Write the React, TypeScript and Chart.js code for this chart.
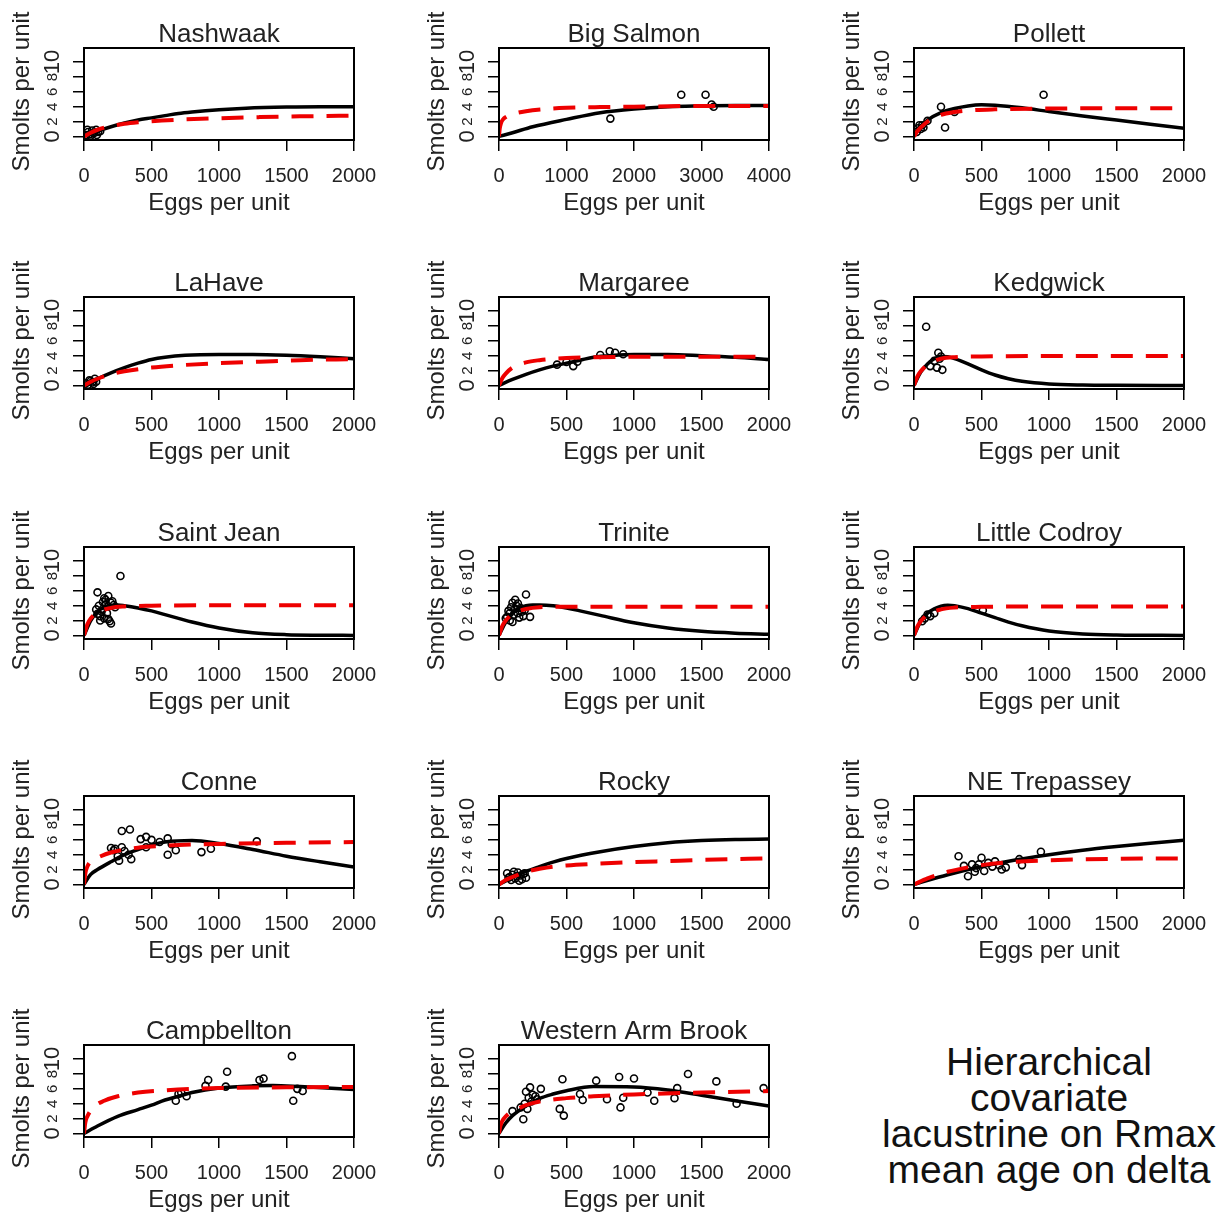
import { useEffect, useRef } from "react";
import { Chart, registerables } from "chart.js";

Chart.register(...registerables);

const FONT = "'Liberation Sans', Arial, Helvetica, sans-serif";
const TEXT = "#222222";
Chart.defaults.font.family = FONT;

// ---------- shared axis data ----------
const yTicks = [0, 2, 4, 6, 8, 10];
const yTicksLarge = [0, 10];
const xTicks2000 = [0, 500, 1000, 1500, 2000];
const xTicks4000 = [0, 1000, 2000, 3000, 4000];
const yMin = -0.48;
const yMax = 11.9;

// ---------- Nashwaak ----------
const nashwaakBlackX = [0, 100, 200, 300, 400, 500, 600, 700, 800, 1000, 1200, 1500, 1750, 2000];
const nashwaakBlackY = [0, 0.7, 1.3, 1.8, 2.2, 2.5, 2.8, 3.1, 3.3, 3.6, 3.8, 3.95, 4.0, 4.0];
const nashwaakRedX = [0, 50, 100, 200, 300, 400, 500, 700, 1000, 1300, 1600, 2000];
const nashwaakRedY = [0, 0.5, 0.9, 1.4, 1.7, 1.9, 2.05, 2.25, 2.45, 2.6, 2.7, 2.8];
const nashwaakPtsX = [15, 30, 45, 60, 75, 90, 105, 25, 50, 70, 95, 120];
const nashwaakPtsY = [0.2, 0.6, 0.3, 0.8, 0.5, 0.9, 0.6, 0.9, 0.1, 0.4, 0.2, 0.7];

// ---------- Big Salmon ----------
const bigSalmonBlackX = [0, 200, 500, 1000, 1500, 2000, 2500, 3000, 3500, 4000];
const bigSalmonBlackY = [0, 0.5, 1.3, 2.3, 3.2, 3.7, 4.0, 4.1, 4.15, 4.15];
const bigSalmonRedX = [0, 10, 30, 60, 100, 200, 400, 700, 1000, 1500, 2000, 3000, 4000];
const bigSalmonRedY = [0, 1.0, 1.8, 2.3, 2.6, 3.0, 3.4, 3.7, 3.85, 3.95, 4.0, 4.1, 4.1];
const bigSalmonPtsX = [1650, 2700, 3060, 3150, 3180];
const bigSalmonPtsY = [2.4, 5.6, 5.6, 4.3, 4.0];

// ---------- Pollett ----------
const pollettBlackX = [0, 25, 50, 100, 200, 300, 400, 500, 600, 800, 1000, 1250, 1500, 1750, 2000];
const pollettBlackY = [0, 0.8, 1.4, 2.2, 3.2, 3.75, 4.1, 4.25, 4.2, 3.85, 3.35, 2.75, 2.2, 1.65, 1.1];
const pollettRedX = [0, 25, 50, 100, 200, 300, 400, 600, 1000, 1500, 2000];
const pollettRedY = [0, 0.7, 1.2, 2.0, 2.9, 3.3, 3.5, 3.65, 3.75, 3.8, 3.8];
const pollettPtsX = [20, 30, 40, 50, 60, 70, 100, 200, 230, 300, 960];
const pollettPtsY = [0.6, 1.1, 1.5, 1.0, 1.5, 1.2, 2.1, 4.0, 1.2, 3.3, 5.6];

// ---------- LaHave ----------
const lahaveBlackX = [0, 100, 200, 300, 400, 500, 600, 750, 1000, 1250, 1500, 1750, 2000];
const lahaveBlackY = [0, 0.9, 1.7, 2.4, 3.0, 3.5, 3.8, 4.05, 4.15, 4.15, 4.05, 3.85, 3.6];
const lahaveRedX = [0, 50, 100, 200, 300, 500, 700, 1000, 1300, 1600, 2000];
const lahaveRedY = [0, 0.5, 0.9, 1.5, 1.9, 2.4, 2.7, 3.0, 3.2, 3.4, 3.55];
const lahavePtsX = [15, 30, 40, 50, 60, 70, 80, 90];
const lahavePtsY = [0.3, 0.1, 0.7, 0.6, 0.4, 0.2, 0.9, 0.5];

// ---------- Margaree ----------
const margareeBlackX = [0, 100, 200, 300, 400, 500, 600, 700, 850, 1000, 1250, 1500, 1750, 2000];
const margareeBlackY = [0, 0.8, 1.5, 2.1, 2.6, 3.0, 3.4, 3.8, 4.05, 4.15, 4.15, 4.0, 3.8, 3.5];
const margareeRedX = [0, 25, 50, 100, 200, 300, 500, 700, 1000, 1500, 2000];
const margareeRedY = [0, 1.0, 1.6, 2.4, 3.1, 3.4, 3.7, 3.8, 3.85, 3.85, 3.85];
const margareePtsX = [430, 500, 550, 580, 750, 820, 860, 920];
const margareePtsY = [2.8, 3.15, 2.6, 3.2, 4.1, 4.6, 4.4, 4.2];

// ---------- Kedgwick ----------
const kedgwickBlackX = [0, 50, 100, 150, 200, 250, 300, 400, 500, 600, 700, 800, 1000, 1250, 1500, 2000];
const kedgwickBlackY = [0, 1.8, 2.9, 3.6, 3.9, 3.85, 3.6, 2.9, 2.1, 1.4, 0.9, 0.55, 0.2, 0.06, 0.02, 0];
const kedgwickRedX = [0, 25, 50, 100, 150, 200, 300, 500, 1000, 2000];
const kedgwickRedY = [0, 1.2, 1.9, 2.8, 3.3, 3.6, 3.8, 3.9, 3.95, 3.95];
const kedgwickPtsX = [90, 120, 150, 170, 180, 190, 200, 210];
const kedgwickPtsY = [7.9, 2.6, 3.3, 2.4, 4.4, 3.6, 3.9, 2.1];

// ---------- Saint Jean ----------
const saintJeanBlackX = [0, 50, 100, 150, 200, 250, 300, 400, 500, 600, 700, 800, 1000, 1250, 1500, 1750, 2000];
const saintJeanBlackY = [0, 2.0, 3.2, 3.8, 4.05, 4.1, 4.0, 3.7, 3.3, 2.8, 2.3, 1.8, 1.0, 0.35, 0.1, 0.03, 0];
const saintJeanRedX = [0, 25, 50, 100, 200, 300, 500, 1000, 2000];
const saintJeanRedY = [0, 1.5, 2.3, 3.1, 3.7, 3.9, 4.0, 4.05, 4.05];
const saintJeanPtsX = [90, 100, 100, 110, 120, 120, 130, 140, 140, 150, 150, 160, 160, 170, 180, 180, 190, 200, 200, 210, 220, 230, 270];
const saintJeanPtsY = [3.5, 5.8, 2.9, 4.0, 2.6, 2.0, 3.2, 4.5, 3.6, 5.0, 2.3, 4.8, 4.2, 3.0, 2.2, 5.3, 1.9, 4.4, 1.6, 4.6, 4.1, 3.8, 8.0];

// ---------- Trinite ----------
const triniteBlackX = [0, 50, 100, 150, 200, 250, 300, 400, 500, 600, 750, 1000, 1250, 1500, 1750, 2000];
const triniteBlackY = [0, 1.8, 3.0, 3.7, 4.0, 4.1, 4.1, 4.0, 3.7, 3.3, 2.7, 1.7, 1.0, 0.55, 0.3, 0.15];
const triniteRedX = [0, 25, 50, 100, 200, 300, 500, 1000, 2000];
const triniteRedY = [0, 1.3, 2.0, 2.9, 3.55, 3.8, 3.85, 3.85, 3.85];
const trinitePtsX = [50, 60, 70, 80, 80, 90, 100, 100, 110, 120, 120, 130, 140, 140, 150, 160, 170, 180, 190, 200, 230];
const trinitePtsY = [2.3, 2.5, 3.3, 2.0, 3.0, 3.8, 4.4, 1.8, 2.8, 3.6, 4.8, 4.0, 3.0, 4.3, 2.4, 3.7, 3.2, 2.6, 3.4, 5.5, 2.5];

// ---------- Little Codroy ----------
const codroyBlackX = [0, 50, 100, 150, 200, 250, 300, 400, 500, 600, 700, 800, 1000, 1250, 1500, 2000];
const codroyBlackY = [0, 1.9, 3.0, 3.6, 3.95, 4.05, 4.0, 3.6, 3.0, 2.4, 1.8, 1.3, 0.6, 0.2, 0.06, 0];
const codroyRedX = [0, 25, 50, 100, 200, 300, 500, 1000, 2000];
const codroyRedY = [0, 1.2, 1.9, 2.8, 3.5, 3.75, 3.85, 3.9, 3.9];
const codroyPtsX = [60, 80, 100, 120, 150, 510];
const codroyPtsY = [1.9, 2.3, 2.8, 2.6, 3.0, 3.4];

// ---------- Conne ----------
const conneBlackX = [0, 50, 100, 200, 300, 400, 500, 600, 800, 1000, 1250, 1500, 1750, 2000];
const conneBlackY = [0, 1.35, 2.0, 3.05, 4.0, 4.7, 5.3, 5.7, 5.9, 5.5, 4.7, 3.8, 3.05, 2.35];
const conneRedX = [0, 10, 25, 50, 100, 200, 300, 400, 500, 700, 1000, 1500, 2000];
const conneRedY = [0, 1.5, 2.4, 3.1, 3.6, 4.3, 4.7, 4.95, 5.1, 5.3, 5.45, 5.6, 5.7];
const connePtsX = [200, 220, 230, 250, 260, 280, 280, 300, 330, 340, 350, 420, 460, 460, 500, 560, 620, 620, 650, 680, 870, 940, 1280];
const connePtsY = [4.9, 4.6, 4.8, 3.8, 3.2, 7.2, 5.0, 4.5, 4.0, 7.4, 3.4, 6.1, 6.4, 5.0, 6.0, 5.7, 6.2, 4.0, 5.4, 4.6, 4.35, 4.8, 5.8];

// ---------- Rocky ----------
const rockyBlackX = [0, 100, 200, 300, 400, 500, 750, 1000, 1250, 1500, 1750, 2000];
const rockyBlackY = [0, 0.9, 1.75, 2.4, 3.0, 3.5, 4.4, 5.1, 5.6, 5.9, 6.05, 6.1];
const rockyRedX = [0, 50, 100, 200, 300, 400, 500, 750, 1000, 1250, 1500, 2000];
const rockyRedY = [0, 0.6, 1.0, 1.7, 2.1, 2.4, 2.55, 2.8, 3.0, 3.15, 3.3, 3.5];
const rockyPtsX = [60, 70, 80, 90, 100, 110, 120, 130, 140, 150, 160, 170, 180, 190, 200];
const rockyPtsY = [1.5, 0.9, 1.0, 0.6, 1.3, 1.7, 0.8, 1.1, 1.6, 0.5, 1.2, 0.7, 1.4, 1.5, 0.9];

// ---------- NE Trepassey ----------
const trepasseyBlackX = [0, 250, 500, 750, 1000, 1250, 1500, 1750, 2000];
const trepasseyBlackY = [0, 1.3, 2.4, 3.3, 4.0, 4.6, 5.1, 5.55, 5.95];
const trepasseyRedX = [0, 100, 250, 400, 500, 750, 1000, 1500, 2000];
const trepasseyRedY = [0, 0.8, 1.7, 2.3, 2.6, 3.05, 3.25, 3.45, 3.5];
const trepasseyPtsX = [330, 370, 400, 430, 450, 460, 480, 500, 520, 550, 580, 600, 630, 650, 680, 780, 800, 940];
const trepasseyPtsY = [3.8, 2.5, 1.1, 2.7, 1.7, 2.2, 2.7, 3.6, 1.8, 2.9, 2.4, 3.1, 2.6, 2.0, 2.3, 3.4, 2.6, 4.4];

// ---------- Campbellton ----------
const campbelltonBlackX = [0, 100, 250, 400, 500, 600, 700, 800, 1000, 1250, 1400, 1600, 1800, 2000];
const campbelltonBlackY = [0, 1.0, 2.3, 3.2, 3.8, 4.5, 5.0, 5.5, 6.1, 6.4, 6.45, 6.3, 6.1, 5.9];
const campbelltonRedX = [0, 10, 25, 75, 150, 250, 400, 600, 800, 1000, 1500, 2000];
const campbelltonRedY = [0, 1.5, 2.3, 3.6, 4.4, 5.0, 5.5, 5.8, 6.0, 6.1, 6.2, 6.25];
const campbelltonPtsX = [680, 700, 720, 760, 900, 920, 1050, 1060, 1300, 1330, 1540, 1550, 1580, 1620];
const campbelltonPtsY = [4.4, 5.3, 5.5, 5.0, 6.4, 7.2, 6.3, 8.3, 7.2, 7.4, 10.4, 4.4, 6.0, 5.7];

// ---------- Western Arm Brook ----------
const wabBlackX = [0, 50, 100, 200, 300, 400, 500, 700, 1000, 1250, 1500, 1750, 2000];
const wabBlackY = [0, 1.4, 2.4, 3.7, 4.7, 5.3, 5.75, 6.3, 6.25, 5.85, 5.15, 4.4, 3.7];
const wabRedX = [0, 10, 25, 50, 100, 150, 200, 300, 500, 700, 1000, 1500, 2000];
const wabRedY = [0, 1.0, 1.7, 2.3, 3.0, 3.4, 3.8, 4.3, 4.75, 5.0, 5.25, 5.5, 5.7];
const wabPtsX = [100, 160, 180, 190, 200, 210, 220, 230, 240, 250, 270, 280, 310, 450, 470, 480, 600, 620, 720, 800, 890, 900, 920, 1000, 1100, 1150, 1300, 1320, 1400, 1610, 1760, 1960];
const wabPtsY = [3.0, 3.5, 1.9, 4.0, 5.6, 3.3, 4.8, 6.2, 4.3, 5.2, 5.0, 4.6, 6.0, 3.3, 7.3, 2.4, 5.3, 4.5, 7.1, 4.6, 7.6, 3.5, 4.8, 7.4, 5.5, 4.4, 4.75, 6.1, 8.0, 7.0, 4.0, 6.1];

const noteLines = ["Hierarchical", "covariate", "lacustrine on Rmax", "mean age on delta"];

const panels = [
  { name: "Nashwaak", xMax: 2000, xTicks: xTicks2000, bx: nashwaakBlackX, by: nashwaakBlackY, rx: nashwaakRedX, ry: nashwaakRedY, px: nashwaakPtsX, py: nashwaakPtsY },
  { name: "Big Salmon", xMax: 4000, xTicks: xTicks4000, bx: bigSalmonBlackX, by: bigSalmonBlackY, rx: bigSalmonRedX, ry: bigSalmonRedY, px: bigSalmonPtsX, py: bigSalmonPtsY },
  { name: "Pollett", xMax: 2000, xTicks: xTicks2000, bx: pollettBlackX, by: pollettBlackY, rx: pollettRedX, ry: pollettRedY, px: pollettPtsX, py: pollettPtsY },
  { name: "LaHave", xMax: 2000, xTicks: xTicks2000, bx: lahaveBlackX, by: lahaveBlackY, rx: lahaveRedX, ry: lahaveRedY, px: lahavePtsX, py: lahavePtsY },
  { name: "Margaree", xMax: 2000, xTicks: xTicks2000, bx: margareeBlackX, by: margareeBlackY, rx: margareeRedX, ry: margareeRedY, px: margareePtsX, py: margareePtsY },
  { name: "Kedgwick", xMax: 2000, xTicks: xTicks2000, bx: kedgwickBlackX, by: kedgwickBlackY, rx: kedgwickRedX, ry: kedgwickRedY, px: kedgwickPtsX, py: kedgwickPtsY },
  { name: "Saint Jean", xMax: 2000, xTicks: xTicks2000, bx: saintJeanBlackX, by: saintJeanBlackY, rx: saintJeanRedX, ry: saintJeanRedY, px: saintJeanPtsX, py: saintJeanPtsY },
  { name: "Trinite", xMax: 2000, xTicks: xTicks2000, bx: triniteBlackX, by: triniteBlackY, rx: triniteRedX, ry: triniteRedY, px: trinitePtsX, py: trinitePtsY },
  { name: "Little Codroy", xMax: 2000, xTicks: xTicks2000, bx: codroyBlackX, by: codroyBlackY, rx: codroyRedX, ry: codroyRedY, px: codroyPtsX, py: codroyPtsY },
  { name: "Conne", xMax: 2000, xTicks: xTicks2000, bx: conneBlackX, by: conneBlackY, rx: conneRedX, ry: conneRedY, px: connePtsX, py: connePtsY },
  { name: "Rocky", xMax: 2000, xTicks: xTicks2000, bx: rockyBlackX, by: rockyBlackY, rx: rockyRedX, ry: rockyRedY, px: rockyPtsX, py: rockyPtsY },
  { name: "NE Trepassey", xMax: 2000, xTicks: xTicks2000, bx: trepasseyBlackX, by: trepasseyBlackY, rx: trepasseyRedX, ry: trepasseyRedY, px: trepasseyPtsX, py: trepasseyPtsY },
  { name: "Campbellton", xMax: 2000, xTicks: xTicks2000, bx: campbelltonBlackX, by: campbelltonBlackY, rx: campbelltonRedX, ry: campbelltonRedY, px: campbelltonPtsX, py: campbelltonPtsY },
  { name: "Western Arm Brook", xMax: 2000, xTicks: xTicks2000, bx: wabBlackX, by: wabBlackY, rx: wabRedX, ry: wabRedY, px: wabPtsX, py: wabPtsY },
];

// layout (page pixel positions of each plot box)
const colLeft = [84, 499, 914];
const rowTop = [48, 297, 547, 796, 1045];
const CANVAS_W = 390;
const CANVAS_H = 218;
const AREA_LEFT = 84;
const AREA_TOP = 48;
const AREA_W = 270;
const X_AXIS_H = 78;

const toXY = (xs: number[], ys: number[]) => xs.map((x, i) => ({ x, y: ys[i] }));

function Panel({ p, left, top }: { p: any; left: number; top: number }) {
  const ref = useRef<HTMLCanvasElement>(null);
  useEffect(() => {
    const canvas = ref.current;
    if (!canvas) return;
    const framePlugin = {
      id: "frame",
      afterDatasetsDraw(chart: any) {
        const { ctx, chartArea: a } = chart;
        ctx.save();
        ctx.strokeStyle = "#000";
        ctx.lineWidth = 2;
        ctx.strokeRect(a.left, a.top, a.right - a.left, a.bottom - a.top);
        ctx.restore();
      },
      afterDraw(chart: any) {
        const { ctx, chartArea: a } = chart;
        ctx.save();
        ctx.translate(22, (a.top + a.bottom) / 2 - 2.5);
        ctx.rotate(-Math.PI / 2);
        ctx.font = `24px ${FONT}`;
        ctx.fillStyle = TEXT;
        ctx.textAlign = "center";
        ctx.textBaseline = "middle";
        ctx.fillText("Smolts per unit", 0, 0);
        ctx.restore();
      },
    };
    const gridOpts = {
      drawOnChartArea: false,
      drawTicks: true,
      tickLength: 11,
      color: "#000",
      lineWidth: 1.5,
    };
    const yLabelFont = (c: any) => {
      const v = c && c.tick ? c.tick.value : (c && typeof c.index === "number" ? yTicks[c.index] : 0);
      return { family: FONT, size: yTicksLarge.includes(v) ? 22 : 15 };
    };
    const chart = new Chart(canvas, {
      type: "scatter",
      data: {
        datasets: [
          {
            label: "BH",
            data: toXY(p.rx, p.ry),
            showLine: true,
            borderColor: "#ee0000",
            borderWidth: 4,
            borderDash: [22, 13],
            pointRadius: 0,
            cubicInterpolationMode: "monotone",
            fill: false,
          },
          {
            label: "Ricker",
            data: toXY(p.bx, p.by),
            showLine: true,
            borderColor: "#000000",
            borderWidth: 3.5,
            pointRadius: 0,
            cubicInterpolationMode: "monotone",
            fill: false,
          },
          {
            label: "obs",
            data: toXY(p.px, p.py),
            showLine: false,
            pointStyle: "circle",
            pointRadius: 3.5,
            pointBorderWidth: 1.6,
            pointBorderColor: "#000000",
            pointBackgroundColor: "rgba(0,0,0,0)",
          },
        ],
      },
      options: {
        responsive: false,
        animation: false,
        events: [],
        layout: { padding: { top: 0, left: 0, bottom: 0, right: CANVAS_W - AREA_LEFT - AREA_W } },
        plugins: {
          legend: { display: false },
          tooltip: { enabled: false },
          title: {
            display: true,
            text: p.name,
            fullSize: false,
            color: TEXT,
            font: { family: FONT, size: 26, weight: "normal" },
            padding: { top: 19.4, bottom: -2.6 },
          },
        },
        scales: {
          x: {
            type: "linear",
            min: 0,
            max: p.xMax,
            afterBuildTicks: (s: any) => {
              s.ticks = p.xTicks.map((v: number) => ({ value: v }));
            },
            afterFit: (s: any) => {
              s.height = X_AXIS_H;
            },
            grid: gridOpts,
            border: { display: false },
            ticks: {
              color: TEXT,
              font: { family: FONT, size: 20 },
              padding: 13,
              minRotation: 0,
              maxRotation: 0,
              autoSkip: false,
              callback: (v: any) => String(v),
            },
            title: {
              display: true,
              text: "Eggs per unit",
              color: TEXT,
              font: { family: FONT, size: 24 },
              padding: { top: 0, bottom: 0 },
            },
          },
          y: {
            type: "linear",
            min: yMin,
            max: yMax,
            afterBuildTicks: (s: any) => {
              s.ticks = yTicks.map((v) => ({ value: v }));
            },
            afterFit: (s: any) => {
              s.width = AREA_LEFT;
            },
            grid: gridOpts,
            border: { display: false },
            ticks: {
              color: TEXT,
              font: yLabelFont,
              padding: 8,
              minRotation: 90,
              maxRotation: 90,
              crossAlign: "center",
              autoSkip: false,
              callback: (v: any) => String(v),
            },
            title: { display: false },
          },
        },
      } as any,
      plugins: [framePlugin],
    });
    return () => chart.destroy();
  }, [p]);
  return (
    <div style={{ position: "absolute", left, top, width: CANVAS_W, height: CANVAS_H }}>
      <canvas ref={ref} width={CANVAS_W} height={CANVAS_H} style={{ display: "block" }} />
    </div>
  );
}

export default function App() {
  return (
    <div
      style={{
        position: "absolute",
        left: 0,
        top: 0,
        width: 1222,
        height: 1216,
        overflow: "hidden",
        background: "#ffffff",
      }}
    >
      {panels.map((p, i) => (
        <Panel
          key={p.name}
          p={p}
          left={colLeft[i % 3] - AREA_LEFT}
          top={rowTop[Math.floor(i / 3)] - AREA_TOP}
        />
      ))}
      <div
        style={{
          position: "absolute",
          left: 869,
          top: 1044,
          width: 360,
          textAlign: "center",
          fontFamily: FONT,
          fontSize: 39,
          lineHeight: "36px",
          color: "#111111",
          whiteSpace: "nowrap",
        }}
      >
        {noteLines.map((l) => (
          <div key={l}>{l}</div>
        ))}
      </div>
    </div>
  );
}
